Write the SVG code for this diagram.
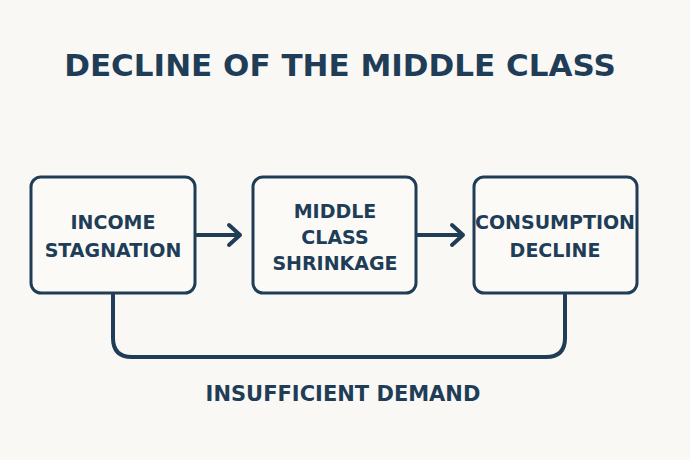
<svg xmlns="http://www.w3.org/2000/svg" width="690" height="460" viewBox="0 0 690 460">
<style>
.t{font-family:"DejaVu Sans","Liberation Sans",sans-serif;font-weight:bold;fill:#1f3d57;text-anchor:middle}
.b{fill:#fbfaf7;stroke:#1f3d57;stroke-width:3}
.c{fill:none;stroke:#1f3d57;stroke-width:4;stroke-linecap:round;stroke-linejoin:round}
</style>
<rect width="690" height="460" fill="#f9f8f5"/>
<text class="t" x="340" y="76" font-size="31">DECLINE OF THE MIDDLE CLASS</text>
<g id="connectors">
<path class="c" d="M197 235H240M229 225L240 235L229 245"/>
<path class="c" d="M418 235H463M452 225L463 235L452 245"/>
<path class="c" d="M113 295V338Q113 357 132 357H546Q565 357 565 338V295"/>
</g>
<g id="n1"><rect class="b" x="31" y="177" width="164" height="116" rx="10"/>
<text class="t" font-size="19"><tspan x="113" y="229">INCOME</tspan><tspan x="113" y="257">STAGNATION</tspan></text></g>
<g id="n2"><rect class="b" x="253" y="177" width="163" height="116" rx="10"/>
<text class="t" font-size="19"><tspan x="335" y="218">MIDDLE</tspan><tspan x="335" y="244">CLASS</tspan><tspan x="335" y="270">SHRINKAGE</tspan></text></g>
<g id="n3"><rect class="b" x="474" y="177" width="163" height="116" rx="10"/>
<text class="t" font-size="19"><tspan x="555" y="229">CONSUMPTION</tspan><tspan x="555" y="257">DECLINE</tspan></text></g>
<text class="t" x="343" y="401" font-size="21">INSUFFICIENT DEMAND</text>
</svg>
